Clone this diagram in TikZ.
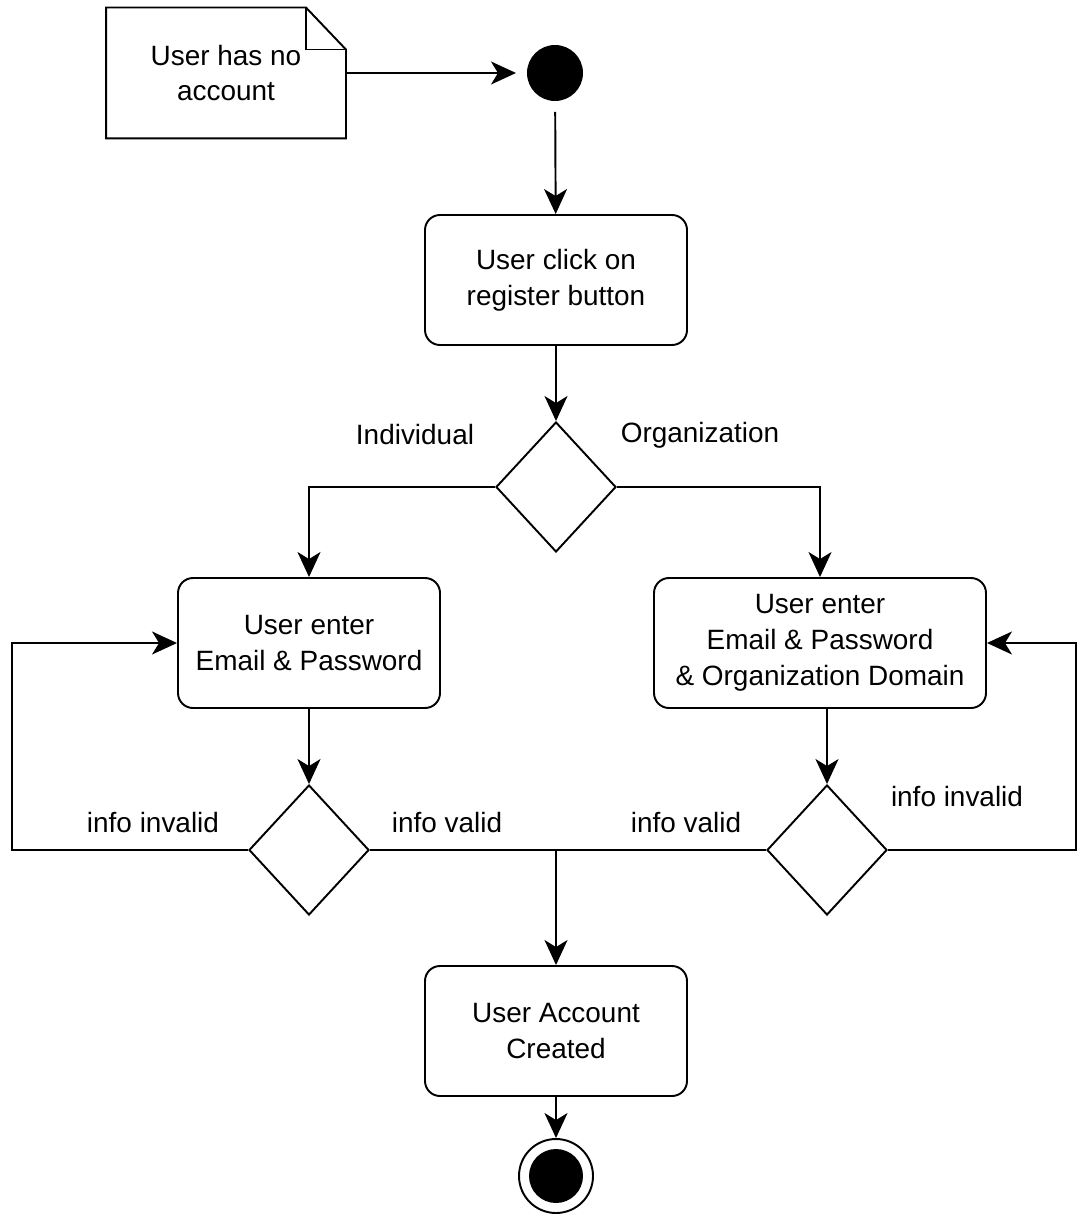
\documentclass[tikz,border=0pt]{standalone}
\usepackage{fontspec}
\setmainfont{Liberation Sans}
\usepackage{tikz}
\usetikzlibrary{positioning, calc, shapes.geometric, arrows.meta}

\begin{document}
\begin{tikzpicture}[
      font=\fontsize{15.9pt}{20.4pt}\selectfont,
      line width=1.1pt,
      activity/.style={rectangle, rounded corners=0.3cm, draw, align=center, minimum width=5.24cm, minimum height=2.6cm, inner sep=2pt},
      decision/.style={diamond, draw, minimum width=2.4cm, minimum height=2.6cm, inner sep=0pt},
      initial/.style={circle, fill=black, minimum size=1.12cm, inner sep=0pt, outer sep=0.22cm},
      final/.style={circle, draw, fill=white, minimum size=1.48cm, inner sep=0pt},
      finalcore/.style={circle, fill=black, minimum size=1.08cm, inner sep=0pt},
      notebox/.style={rectangle, align=center, minimum width=4.76cm, minimum height=2.58cm, inner sep=0pt},
      flow/.style={-{Stealth[length=0.5cm, width=0.46cm, inset=0.14cm]}},
      guard/.style={inner sep=1pt}
    ]
      \useasboundingbox (0,0) rectangle (21.54,-24.28);

      % Nodes
      \node[notebox] (note) at (4.52,-1.46) {User has no\\account};
      \node[initial] (start) at (11.1,-1.46) {};
      \node[activity] (click) at (11.12,-5.6) {User click on\\register button};
      \node[decision] (type) at (11.12,-9.74) {};
      \node[activity] (indiv) at (6.18,-12.86) {User enter\\Email \& Password};
      \node[activity, minimum width=6.64cm] (org) at (16.4,-12.86) {User enter\\Email \& Password\\\& Organization Domain};
      \node[decision] (checkind) at (6.18,-17.0) {};
      \node[decision] (checkorg) at (16.54,-17.0) {};
      \node[activity] (created) at (11.12,-20.62) {User Account\\Created};
      \node[final] (stop) at (11.12,-23.52) {};
      \node[finalcore] (stopcore) at (stop) {};

      % note outline with folded corner
      \draw (note.south west) -- (note.north west) -- ([xshift=-0.8cm]note.north east)
        -- ([yshift=-0.84cm]note.north east) -- (note.south east) -- cycle;
      \draw ([xshift=-0.8cm]note.north east) |- ([yshift=-0.84cm]note.north east);

      % Guards
      \node[guard] (lblind) at (8.3,-8.7) {Individual};
      \node[guard] (lblorg) at (14.0,-8.7) {Organization};
      \node[guard] (lblinvl) at (3.06,-16.46) {info invalid};
      \node[guard] (lblvall) at (8.94,-16.46) {info valid};
      \node[guard] (lblvalr) at (13.72,-16.46) {info valid};
      \node[guard] (lblinvr) at (19.14,-15.94) {info invalid};

      \coordinate (join) at (checkind.east -| created.north);
      \coordinate (lback) at (0.24,-17.0);
      \coordinate (rback) at (21.52,-17.0);

      % Edges
      \draw[flow] (note.east) -- (start);
      \draw[flow] (start) -- (click);
      \draw[flow] (click) -- (type);
      \draw[flow] (type.west) -| (indiv.north);
      \draw[flow] (type.east) -| (org.north);
      \draw[flow] (indiv) -- (checkind);
      \draw[flow] (org.south -| checkorg) -- (checkorg.north);
      \draw (checkind.east) -- (checkorg.west);
      \draw[flow] (join) -- (created);
      \draw[flow] (checkind.west) -- (lback) |- (indiv.west);
      \draw[flow] (checkorg.east) -- (rback) |- (org.east);
      \draw[flow] (created) -- (stop);
    \end{tikzpicture}
\end{document}
